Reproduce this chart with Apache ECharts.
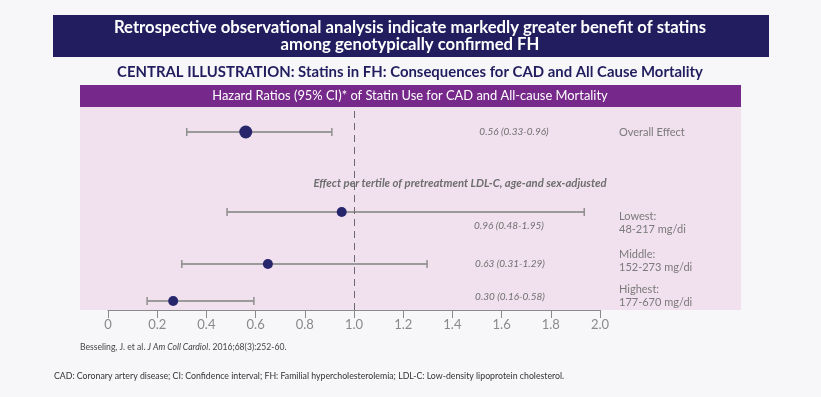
<!DOCTYPE html>
<html>
<head>
<meta charset="utf-8">
<script src="https://cdn.jsdelivr.net/npm/echarts@6/dist/echarts.min.js"></script>
<style>
html,body{margin:0;padding:0;background:#f7f7f9;}
#c{width:821px;height:397px;}
</style>
</head>
<body>
<div id="c"></div>
<script>
// ---- data ----
const rowNames = ['Overall Effect', 'Lowest:\n48-217 mg/di', 'Middle:\n152-273 mg/di', 'Highest:\n177-670 mg/di'];
const hazardRatio = [0.56, 0.95, 0.65, 0.265];
const ciLow = [0.32, 0.484, 0.30, 0.159];
const ciHigh = [0.91, 1.936, 1.297, 0.593];
const hrText = ['0.56 (0.33-0.96)', '0.96 (0.48-1.95)', '0.63 (0.31-1.29)', '0.30 (0.16-0.58)'];
const xTickValues = [0, 0.2, 0.4, 0.6, 0.8, 1.0, 1.2, 1.4, 1.6, 1.8, 2.0];
const referenceLine = 1.0;

// ---- layout (row positions on a hidden vertical scale) ----
const rowY = [178, 98, 46, 9];
const markerSize = [13, 10, 10, 10];

const FONT = 'Lato';
const chart = echarts.init(document.getElementById('c'), null, {renderer: 'canvas'});

const errData = ciLow.map((lo, i) => [lo, ciHigh[i], rowY[i]]);
const ptData = hazardRatio.map((v, i) => ({value: [v, rowY[i]], symbolSize: markerSize[i]}));

const option = {
  backgroundColor: '#f7f7f9',
  animation: false,
  graphic: [
    {type: 'rect', shape: {x: 53, y: 15, width: 716, height: 42}, style: {fill: '#221d5f'}, z: 0},
    {type: 'text', x: 410, y: 28, style: {text: 'Retrospective observational analysis indicate markedly greater benefit of statins', fill: '#fff', font: 'bold 16.7px ' + FONT, textAlign: 'center', textVerticalAlign: 'middle'}},
    {type: 'text', x: 410, y: 45, style: {text: 'among genotypically confirmed FH', fill: '#fff', font: 'bold 16.7px ' + FONT, textAlign: 'center', textVerticalAlign: 'middle'}},
    {type: 'text', x: 410, y: 72, style: {text: 'CENTRAL ILLUSTRATION: Statins in FH: Consequences for CAD and All Cause Mortality', fill: '#221d5f', font: 'bold 14.9px ' + FONT, textAlign: 'center', textVerticalAlign: 'middle'}},
    {type: 'rect', shape: {x: 80, y: 85, width: 661, height: 22}, style: {fill: '#76298a'}, z: -10},
    {type: 'text', x: 410, y: 96, style: {text: 'Hazard Ratios (95% CI)* of Statin Use for CAD and All-cause Mortality', fill: '#fff', font: '12.9px ' + FONT, textAlign: 'center', textVerticalAlign: 'middle'}},
    {type: 'rect', shape: {x: 80, y: 107, width: 661, height: 203}, style: {fill: '#f1e0ee'}, z: -10},
    {type: 'text', x: 460, y: 183, style: {text: 'Effect per tertile of pretreatment LDL-C, age-and sex-adjusted', fill: '#6e6e6e', font: 'italic bold 11.3px ' + FONT, textAlign: 'center', textVerticalAlign: 'middle'}},
    {type: 'text', x: 514, y: 132, style: {text: hrText[0], fill: '#707070', font: 'italic 10px ' + FONT, textAlign: 'center', textVerticalAlign: 'middle'}},
    {type: 'text', x: 509, y: 226, style: {text: hrText[1], fill: '#707070', font: 'italic 10px ' + FONT, textAlign: 'center', textVerticalAlign: 'middle'}},
    {type: 'text', x: 510, y: 264, style: {text: hrText[2], fill: '#707070', font: 'italic 10px ' + FONT, textAlign: 'center', textVerticalAlign: 'middle'}},
    {type: 'text', x: 510, y: 297, style: {text: hrText[3], fill: '#707070', font: 'italic 10px ' + FONT, textAlign: 'center', textVerticalAlign: 'middle'}},
    {type: 'text', x: 619, y: 132, style: {text: rowNames[0], fill: '#7a7a7a', font: '11px ' + FONT, textVerticalAlign: 'middle'}},
    {type: 'text', x: 619, y: 223, style: {text: rowNames[1], fill: '#7a7a7a', font: '11px ' + FONT, lineHeight: 13, textVerticalAlign: 'middle'}},
    {type: 'text', x: 619, y: 261, style: {text: rowNames[2], fill: '#7a7a7a', font: '11px ' + FONT, lineHeight: 13, textVerticalAlign: 'middle'}},
    {type: 'text', x: 619, y: 296, style: {text: rowNames[3], fill: '#7a7a7a', font: '11px ' + FONT, lineHeight: 13, textVerticalAlign: 'middle'}},
    {type: 'text', x: 80, y: 347, style: {
      text: '{a|Besseling, J. et al. }{b|J Am Coll Cardiol}{a|. 2016;68(3):252-60.}',
      textVerticalAlign: 'middle',
      rich: {
        a: {fontFamily: FONT, fontSize: 8.6, fill: '#444', color: '#444'},
        b: {fontFamily: FONT, fontSize: 8.6, fontStyle: 'italic', fill: '#444', color: '#444'}
      }
    }},
    {type: 'text', x: 54, y: 376, style: {text: 'CAD: Coronary artery disease; CI: Confidence interval; FH: Familial hypercholesterolemia; LDL-C: Low-density lipoprotein cholesterol.', fill: '#333', font: '8.75px ' + FONT, textVerticalAlign: 'middle'}}
  ],
  grid: {left: 108, right: 221, top: 107, bottom: 87, containLabel: false},
  xAxis: {
    type: 'value', min: 0, max: 2, interval: 0.2,
    axisLine: {show: true, lineStyle: {color: '#8a8a8a', width: 1}},
    axisTick: {show: true, length: 8, lineStyle: {color: '#8a8a8a'}},
    axisLabel: {
      color: '#8a8a8a', fontFamily: FONT, fontSize: 13, margin: 8,
      customValues: xTickValues,
      formatter: v => v === 0 ? '0' : v.toFixed(1)
    },
    splitLine: {show: false}
  },
  yAxis: {type: 'value', min: 0, max: 203, show: false, splitLine: {show: false}},
  series: [
    {
      type: 'custom',
      data: errData,
      encode: {x: [0, 1], y: 2},
      renderItem: function (params, api) {
        const y = api.value(2);
        const a = api.coord([api.value(0), y]);
        const b = api.coord([api.value(1), y]);
        const h = 4;
        const st = {stroke: '#9a9a9a', lineWidth: 2};
        const cs = {stroke: '#8f8f8f', lineWidth: 1.5};
        return {type: 'group', children: [
          {type: 'line', shape: {x1: a[0], y1: a[1], x2: b[0], y2: b[1]}, style: st},
          {type: 'line', shape: {x1: a[0], y1: a[1] - h, x2: a[0], y2: a[1] + h}, style: cs},
          {type: 'line', shape: {x1: b[0], y1: b[1] - h, x2: b[0], y2: b[1] + h}, style: cs}
        ]};
      },
      markLine: {
        silent: true, symbol: 'none',
        label: {show: false},
        lineStyle: {color: '#6a6a6a', type: [7, 5], width: 1},
        data: [{xAxis: referenceLine}]
      },
      z: 2
    },
    {
      type: 'scatter',
      data: ptData,
      itemStyle: {color: '#27256c', opacity: 1},
      z: 5
    }
  ]
};
chart.setOption(option);
</script>
</body>
</html>
